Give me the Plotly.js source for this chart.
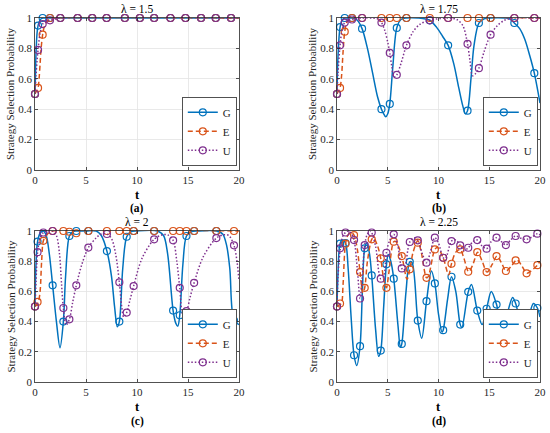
<!DOCTYPE html>
<html>
<head>
<meta charset="utf-8">
<script src="https://cdn.plot.ly/plotly-3.0.1.min.js"></script>
<style>html,body{margin:0;padding:0;background:#fff;}#chart{width:550px;height:433px;}</style>
</head>
<body>
<div id="chart"></div>
<script>
// ---------- shared labels ----------
const seriesNames = ['G', 'E', 'U'];
const panelLabels = ['(a)', '(b)', '(c)', '(d)'];
const panelTitles = ['\u03bb = 1.5', '\u03bb = 1.75', '\u03bb = 2', '\u03bb = 2.25'];
const xTicks = [0, 5, 10, 15, 20];
const yTicks = [0, 0.2, 0.4, 0.6, 0.8, 1];

// ---------- (a) lambda = 1.5 ----------
const aMarkT = [0, 0.3, 0.75, 1.47, 2.48, 4.18, 5.61, 7.02, 8.81, 10.28, 11.68, 13.28, 14.75, 16.28, 17.72, 19.22];
const aMarkG = [0.5, 0.95, 1, 1, 1, 1, 1, 1, 1, 1, 1, 1, 1, 1, 1, 1];
const aMarkE = [0.5, 0.54, 0.89, 1, 1, 1, 1, 1, 1, 1, 1, 1, 1, 1, 1, 1];
const aMarkU = [0.5, 0.79, 0.96, 0.985, 1, 1, 1, 1, 1, 1, 1, 1, 1, 1, 1, 1];
const aLineGt = [0, 0.05, 0.1, 0.2, 0.3, 0.45, 0.6, 0.8, 1.2, 20];
const aLineG = [0.5, 0.65, 0.77, 0.9, 0.95, 0.98, 0.995, 1, 1, 1];
const aLineEt = [0, 0.15, 0.3, 0.4, 0.5, 0.6, 0.75, 0.9, 1.1, 1.47, 2, 20];
const aLineE = [0.5, 0.52, 0.54, 0.6, 0.7, 0.8, 0.89, 0.94, 0.97, 0.995, 1, 1];
const aLineUt = [0, 0.1, 0.2, 0.3, 0.5, 0.75, 1.0, 1.47, 2.5, 20];
const aLineU = [0.5, 0.62, 0.72, 0.79, 0.9, 0.96, 0.975, 0.985, 1, 1];

// ---------- (b) lambda = 1.75 ----------
const bMarkT = [0, 0.3, 0.76, 1.48, 2.47, 4.38, 5.2, 5.89, 6.84, 9.14, 10.95, 12.86, 13.98, 15.13, 17.47, 19.44];
const bMarkG = [0.5, 0.94, 1, 1, 0.93, 0.40, 0.435, 0.935, 1, 0.985, 0.82, 0.39, 0.967, 1, 0.967, 0.637];
const bMarkE = [0.5, 0.54, 0.91, 1, 1, 1, 1, 1, 1, 1, 1, 1, 1, 1, 1, 1];
const bMarkU = [0.5, 0.82, 0.97, 0.99, 1, 0.97, 0.77, 0.626, 0.82, 0.985, 1, 0.83, 0.67, 0.89, 1, 1];
const bLineGt = [0, 0.1, 0.3, 0.5, 0.76, 1.0, 1.48, 2.0, 2.47, 3.0, 3.5, 4.0, 4.38, 4.6, 4.8, 5.0, 5.2, 5.5, 5.89, 6.3, 6.84, 8, 9.14, 9.8, 10.4, 10.95, 11.5, 12.0, 12.4, 12.65, 12.86, 13.2, 13.5, 13.98, 14.5, 15.13, 16.5, 17.0, 17.47, 18.0, 18.5, 19.0, 19.44, 20];
const bLineG = [0.5, 0.75, 0.94, 0.985, 1, 1, 1, 0.985, 0.93, 0.8, 0.64, 0.48, 0.40, 0.37, 0.35, 0.37, 0.435, 0.68, 0.935, 0.99, 1, 1, 0.985, 0.94, 0.88, 0.82, 0.7, 0.54, 0.42, 0.37, 0.39, 0.6, 0.82, 0.967, 0.995, 1, 1, 0.995, 0.967, 0.93, 0.86, 0.75, 0.637, 0.44];
const bLineEt = [0, 0.15, 0.3, 0.45, 0.6, 0.76, 0.95, 1.2, 1.48, 20];
const bLineE = [0.5, 0.52, 0.54, 0.62, 0.78, 0.91, 0.97, 0.99, 1, 1];
const bLineUt = [0, 0.1, 0.3, 0.5, 0.76, 1.1, 1.48, 2.47, 3.5, 4.0, 4.38, 4.7, 5.0, 5.2, 5.4, 5.6, 5.89, 6.3, 6.84, 7.5, 8.2, 9.14, 10.95, 11.8, 12.4, 12.86, 13.1, 13.35, 13.6, 13.98, 14.5, 15.13, 15.8, 16.5, 17.47, 19.44, 20];
const bLineU = [0.5, 0.64, 0.82, 0.92, 0.97, 0.985, 0.99, 1, 1, 0.995, 0.97, 0.92, 0.84, 0.77, 0.68, 0.61, 0.626, 0.7, 0.82, 0.91, 0.96, 0.985, 1, 0.99, 0.95, 0.83, 0.72, 0.62, 0.63, 0.67, 0.78, 0.89, 0.95, 0.985, 1, 1, 1];

// ---------- (c) lambda = 2 ----------
const cMarkT = [0, 0.25, 0.82, 1.73, 2.78, 3.37, 4.05, 5.23, 7.05, 8.27, 8.99, 9.67, 11.68, 13.54, 14.19, 14.85, 15.6, 17.78, 19.51];
const cMarkG = [0.5, 0.93, 0.98, 0.64, 0.40, 0.967, 1, 1, 0.867, 0.40, 0.962, 1, 1, 0.473, 0.442, 0.967, 1, 1, 0.407];
const cMarkE = [0.5, 0.53, 0.935, 1, 1, 0.995, 0.985, 1, 1, 1, 1, 1, 1, 1, 1, 1, 1, 1, 1];
const cMarkU = [0.5, 0.86, 0.99, 1, 0.49, 0.415, 0.64, 0.89, 0.98, 0.66, 0.46, 0.635, 0.945, 0.938, 0.624, 0.47, 0.657, 0.953, 0.905];
const cLineGt = [0, 0.08, 0.25, 0.5, 0.82, 1.1, 1.4, 1.73, 2.1, 2.45, 2.78, 3.0, 3.37, 3.7, 4.05, 5, 6.0, 6.5, 7.05, 7.5, 7.8, 8.07, 8.27, 8.6, 8.99, 9.4, 10, 12.0, 12.6, 13.0, 13.54, 13.8, 14.0, 14.19, 14.5, 14.85, 15.3, 16, 17.78, 18.4, 18.8, 19.1, 19.51, 20];
const cLineG = [0.5, 0.75, 0.93, 0.985, 1, 0.97, 0.85, 0.64, 0.4, 0.227, 0.40, 0.7, 0.967, 0.995, 1, 1, 1, 0.97, 0.867, 0.7, 0.5, 0.366, 0.40, 0.75, 0.962, 0.995, 1, 1, 0.97, 0.85, 0.473, 0.39, 0.37, 0.442, 0.78, 0.967, 0.995, 1, 1, 0.98, 0.9, 0.75, 0.407, 0.38];
const cLineEt = [0, 0.15, 0.33, 0.5, 0.65, 0.82, 1.1, 1.4, 1.73, 20];
const cLineE = [0.5, 0.51, 0.53, 0.6, 0.8, 0.935, 0.97, 0.99, 1, 1];
const cLineUt = [0, 0.1, 0.25, 0.5, 0.82, 1.2, 1.73, 2.1, 2.4, 2.6, 2.78, 3.04, 3.37, 3.7, 4.05, 4.6, 5.23, 6.0, 6.5, 7.05, 7.5, 7.9, 8.27, 8.5, 8.7, 8.99, 9.3, 9.67, 10.5, 11.68, 12.5, 13.0, 13.54, 13.9, 14.19, 14.5, 14.85, 15.2, 15.6, 16.5, 17.78, 18.5, 19.0, 19.51, 19.8, 20];
const cLineU = [0.5, 0.66, 0.86, 0.95, 0.99, 1, 1, 0.97, 0.85, 0.65, 0.49, 0.377, 0.415, 0.53, 0.64, 0.78, 0.89, 0.955, 0.98, 0.98, 0.95, 0.85, 0.66, 0.5, 0.43, 0.46, 0.54, 0.635, 0.82, 0.945, 0.975, 0.975, 0.938, 0.8, 0.624, 0.45, 0.47, 0.56, 0.657, 0.83, 0.953, 0.975, 0.97, 0.905, 0.8, 0.67];

// ---------- (d) lambda = 2.25 ----------
const dMarkT = [0, 0.3, 0.84, 1.68, 2.27, 2.73, 3.42, 4.31, 4.87, 5.59, 6.38, 7.17, 7.96, 8.82, 9.64, 10.46, 11.28, 12.14, 12.93, 13.82, 14.74, 15.72, 16.64, 17.6, 18.68, 19.74];
const dMarkG = [0.5, 0.916, 0.92, 0.177, 0.237, 0.885, 0.706, 0.208, 0.779, 0.684, 0.252, 0.796, 0.407, 0.535, 0.653, 0.343, 0.697, 0.38, 0.597, 0.473, 0.485, 0.513, 0.425, 0.52, 0.385, 0.49];
const dMarkE = [0.5, 0.52, 0.916, 0.973, 0.728, 0.624, 0.945, 0.819, 0.624, 0.929, 0.834, 0.746, 0.923, 0.69, 0.878, 0.823, 0.783, 0.878, 0.73, 0.86, 0.728, 0.834, 0.735, 0.805, 0.72, 0.774];
const dMarkU = [0.5, 0.885, 0.99, 0.94, 0.553, 0.907, 0.99, 0.684, 0.856, 0.978, 0.752, 0.927, 0.938, 0.79, 0.956, 0.823, 0.933, 0.905, 0.889, 0.94, 0.883, 0.956, 0.907, 0.967, 0.945, 0.982];
const dLineGt = [0, 0.1, 0.3, 0.55, 0.84, 1.1, 1.4, 1.68, 1.95, 2.27, 2.5, 2.73, 2.95, 3.2, 3.42, 3.8, 4.1, 4.31, 4.6, 4.87, 5.05, 5.3, 5.59, 6.0, 6.25, 6.38, 6.8, 7.17, 7.4, 7.96, 8.35, 8.82, 9.3, 9.64, 10.0, 10.35, 10.46, 10.9, 11.28, 11.7, 12.14, 12.3, 12.93, 13.25, 13.82, 14.3, 14.74, 15.2, 15.72, 16.2, 16.64, 17.3, 17.6, 18.3, 18.68, 19.35, 19.74, 20];
const dLineG = [0.5, 0.72, 0.916, 0.94, 0.92, 0.75, 0.42, 0.177, 0.11, 0.237, 0.6, 0.885, 0.92, 0.85, 0.706, 0.35, 0.17, 0.208, 0.5, 0.779, 0.845, 0.8, 0.684, 0.38, 0.23, 0.252, 0.6, 0.796, 0.79, 0.407, 0.29, 0.535, 0.735, 0.653, 0.45, 0.33, 0.343, 0.55, 0.697, 0.6, 0.38, 0.36, 0.597, 0.645, 0.473, 0.38, 0.485, 0.6, 0.513, 0.37, 0.425, 0.56, 0.52, 0.36, 0.385, 0.52, 0.49, 0.43];
const dLineEt = [0, 0.2, 0.43, 0.6, 0.84, 1.1, 1.4, 1.68, 2.0, 2.27, 2.55, 2.73, 3.0, 3.42, 3.6, 4.0, 4.31, 4.6, 4.87, 5.1, 5.59, 5.8, 6.38, 6.9, 7.17, 7.5, 7.96, 8.3, 8.82, 9.0, 9.64, 9.9, 10.46, 11.0, 11.28, 11.7, 12.14, 12.5, 12.97, 13.4, 13.85, 14.3, 14.78, 15.3, 15.76, 16.2, 16.65, 17.2, 17.73, 18.2, 18.7, 19.2, 19.74, 20];
const dLineE = [0.5, 0.51, 0.52, 0.65, 0.916, 0.975, 0.99, 0.973, 0.88, 0.728, 0.59, 0.624, 0.8, 0.945, 0.955, 0.9, 0.819, 0.68, 0.624, 0.72, 0.929, 0.93, 0.834, 0.68, 0.746, 0.86, 0.935, 0.86, 0.69, 0.7, 0.878, 0.89, 0.823, 0.71, 0.783, 0.86, 0.878, 0.82, 0.73, 0.78, 0.86, 0.8, 0.728, 0.78, 0.834, 0.79, 0.735, 0.77, 0.81, 0.77, 0.72, 0.74, 0.774, 0.8];
const dLineUt = [0, 0.1, 0.33, 0.6, 0.84, 1.1, 1.4, 1.68, 2.0, 2.27, 2.5, 2.73, 3.0, 3.3, 3.42, 3.8, 4.31, 4.6, 4.87, 5.2, 5.59, 6.0, 6.38, 6.6, 7.17, 7.6, 7.96, 8.4, 8.82, 9.2, 9.64, 10.0, 10.46, 10.7, 11.28, 11.7, 12.14, 12.5, 12.93, 13.4, 13.82, 14.3, 14.74, 15.2, 15.72, 16.2, 16.64, 17.1, 17.6, 18.2, 18.68, 19.2, 19.74, 20];
const dLineU = [0.5, 0.7, 0.885, 0.97, 0.99, 1, 0.985, 0.94, 0.75, 0.553, 0.7, 0.907, 0.98, 1, 0.99, 0.9, 0.684, 0.7, 0.856, 0.94, 0.978, 0.9, 0.752, 0.74, 0.927, 0.955, 0.938, 0.85, 0.79, 0.86, 0.956, 0.92, 0.823, 0.82, 0.933, 0.94, 0.905, 0.87, 0.889, 0.93, 0.94, 0.9, 0.883, 0.93, 0.956, 0.93, 0.907, 0.94, 0.967, 0.95, 0.945, 0.96, 0.982, 0.975];

// ---------- styling ----------
const colors = {G: '#0072BD', E: '#D95319', U: '#7E2F8E'};
const dashes = {G: 'solid', E: '5px,3px', U: '1.5px,2px'};
const SERIF = '"Liberation Serif", "Times New Roman", serif';
const AXC = '#262626';

const panels = [
  {mt: aMarkT, mk: {G: aMarkG, E: aMarkE, U: aMarkU}, lt: {G: aLineGt, E: aLineEt, U: aLineUt}, lv: {G: aLineG, E: aLineE, U: aLineU}},
  {mt: bMarkT, mk: {G: bMarkG, E: bMarkE, U: bMarkU}, lt: {G: bLineGt, E: bLineEt, U: bLineUt}, lv: {G: bLineG, E: bLineE, U: bLineU}},
  {mt: cMarkT, mk: {G: cMarkG, E: cMarkE, U: cMarkU}, lt: {G: cLineGt, E: cLineEt, U: cLineUt}, lv: {G: cLineG, E: cLineE, U: cLineU}},
  {mt: dMarkT, mk: {G: dMarkG, E: dMarkE, U: dMarkU}, lt: {G: dLineGt, E: dLineEt, U: dLineUt}, lv: {G: dLineG, E: dLineE, U: dLineU}}
];

// pixel boxes of the four plot areas (left, right, top, bottom)
const W = 550, H = 433;
const boxes = [
  {l: 35, r: 239, t: 18, b: 170},
  {l: 337, r: 540, t: 18, b: 170},
  {l: 35, r: 239, t: 231, b: 382},
  {l: 337, r: 540, t: 231, b: 382}
];

const traces = [];
panels.forEach((p, i) => {
  const xa = 'x' + (i ? i + 1 : '');
  const ya = 'y' + (i ? i + 1 : '');
  const lg = 'legend' + (i ? i + 1 : '');
  seriesNames.forEach(s => {
    traces.push({
      x: p.lt[s], y: p.lv[s], xaxis: xa, yaxis: ya, mode: 'lines',
      line: {color: colors[s], width: 1.5, dash: dashes[s], shape: 'spline', smoothing: 0.9},
      showlegend: false, hoverinfo: 'skip'
    });
    traces.push({
      x: p.mt, y: p.mk[s], xaxis: xa, yaxis: ya, mode: 'markers',
      marker: {symbol: 'circle-open', size: 7, color: colors[s], line: {width: 1.2, color: colors[s]}},
      showlegend: false, cliponaxis: false
    });
  });
  seriesNames.forEach(s => {
    traces.push({
      x: [null], y: [null], xaxis: xa, yaxis: ya, mode: 'lines+markers', name: s, legend: lg,
      line: {color: colors[s], width: 1.5, dash: dashes[s]},
      marker: {symbol: 'circle-open', size: 7, color: colors[s], line: {width: 1.2, color: colors[s]}}
    });
  });
});

const layout = {
  width: W, height: H,
  margin: {l: 0, r: 0, t: 0, b: 0},
  paper_bgcolor: '#fff', plot_bgcolor: '#fff',
  font: {family: SERIF, size: 11, color: AXC},
  annotations: []
};

boxes.forEach((bx, i) => {
  const n = i ? i + 1 : '';
  const axCommon = {
    showline: true, mirror: 'ticks', linecolor: AXC, linewidth: 0.8,
    ticks: 'inside', ticklen: 3, tickwidth: 0.8, tickcolor: AXC,
    showgrid: true, gridcolor: '#e3e3e3', gridwidth: 0.8, zeroline: false,
    tickfont: {family: SERIF, size: 11, color: AXC}, fixedrange: true
  };
  layout['xaxis' + n] = Object.assign({}, axCommon, {
    domain: [bx.l / W, bx.r / W], range: [0, 20], tickvals: xTicks, ticktext: xTicks.map(String),
    anchor: 'y' + n
  });
  layout['yaxis' + n] = Object.assign({}, axCommon, {
    domain: [1 - bx.b / H, 1 - bx.t / H], range: [0, 1], tickvals: yTicks, ticktext: yTicks.map(String),
    anchor: 'x' + n
  });
  layout['legend' + n] = {
    x: (bx.r - 2) / W, xanchor: 'right', y: 1 - (bx.b - 4) / H, yanchor: 'bottom',
    bgcolor: '#fff', bordercolor: AXC, borderwidth: 0.8,
    font: {family: SERIF, size: 11, color: AXC}, tracegroupgap: 0, itemwidth: 30
  };
  const cx = (bx.l + bx.r) / 2;
  layout.annotations.push(
    {text: panelTitles[i], x: cx / W, y: 1 - (bx.t - 9) / H, xref: 'paper', yref: 'paper',
     xanchor: 'center', yanchor: 'middle', showarrow: false, font: {family: SERIF, size: 11.5, color: '#000'}},
    {text: '<b>t</b>', x: cx / W, y: 1 - (bx.b + 25) / H, xref: 'paper', yref: 'paper',
     xanchor: 'center', yanchor: 'middle', showarrow: false, font: {family: SERIF, size: 12.5, color: '#000'}},
    {text: '<b>' + panelLabels[i] + '</b>', x: cx / W, y: 1 - (bx.b + 39) / H, xref: 'paper', yref: 'paper',
     xanchor: 'center', yanchor: 'middle', showarrow: false, font: {family: SERIF, size: 11.5, color: '#000'}},
    {text: 'Strategy Selection Probability', x: (bx.l - 25) / W, y: 1 - ((bx.t + bx.b) / 2) / H,
     xref: 'paper', yref: 'paper', xanchor: 'center', yanchor: 'middle', textangle: -90, showarrow: false,
     font: {family: SERIF, size: 11, color: AXC}}
  );
});

Plotly.newPlot('chart', traces, layout, {displayModeBar: false, staticPlot: true});
</script>
</body>
</html>
